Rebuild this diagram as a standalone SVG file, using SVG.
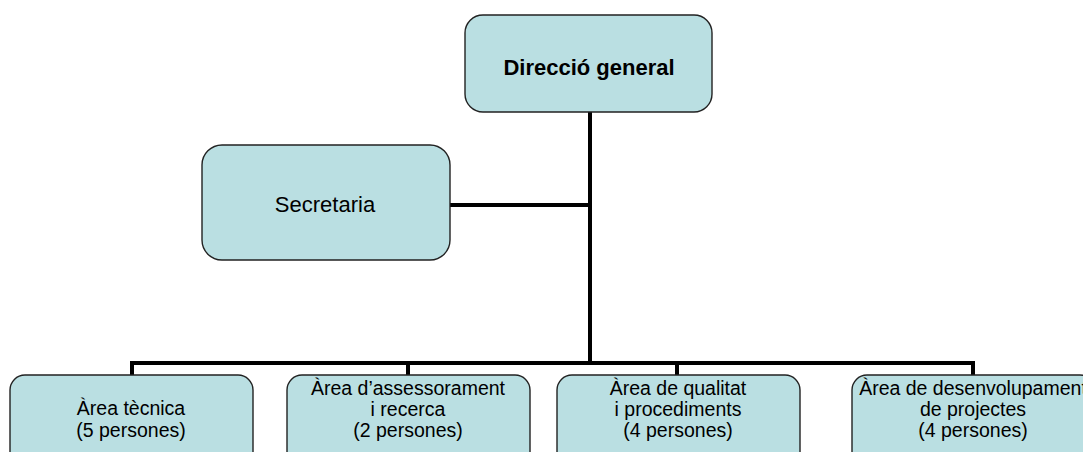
<svg xmlns="http://www.w3.org/2000/svg" width="1083" height="452" viewBox="0 0 1083 452">
<style>
.box{fill:#BADFE2;stroke:#222;stroke-width:1.4}
.t{font-family:"Liberation Sans",Arial,sans-serif;fill:#000;text-anchor:middle}
.big{font-size:22px}
.sm{font-size:19.5px}
.b{font-weight:bold}
.ln{stroke:#000;stroke-width:4;fill:none}
</style>
<rect width="1083" height="452" fill="#fff"/>
<g id="connectors">
<line class="ln" x1="590" y1="112" x2="590" y2="365"/>
<line class="ln" x1="450" y1="205" x2="590" y2="205"/>
<line class="ln" x1="130" y1="363" x2="975" y2="363"/>
<line class="ln" x1="132" y1="361" x2="132" y2="376"/>
<line class="ln" x1="408" y1="361" x2="408" y2="376"/>
<line class="ln" x1="677" y1="361" x2="677" y2="376"/>
<line class="ln" x1="973" y1="361" x2="973" y2="376"/>
</g>
<g id="direccio">
<rect class="box" x="465" y="15" width="247" height="97" rx="18"/>
<text class="t big b" x="589" y="75">Direcció general</text>
</g>
<g id="secretaria">
<rect class="box" x="202" y="145" width="248" height="115" rx="20"/>
<text class="t big" x="325" y="212">Secretaria</text>
</g>
<g id="tecnica">
<rect class="box" x="10" y="375" width="243" height="100" rx="15"/>
<text class="t sm" x="131" y="415">Àrea tècnica</text>
<text class="t sm" x="131" y="437">(5 persones)</text>
</g>
<g id="assessorament">
<rect class="box" x="287" y="375" width="243" height="100" rx="15"/>
<text class="t sm" x="408" y="395">Àrea d’assessorament</text>
<text class="t sm" x="408" y="416">i recerca</text>
<text class="t sm" x="408" y="437">(2 persones)</text>
</g>
<g id="qualitat">
<rect class="box" x="557" y="375" width="243" height="100" rx="15"/>
<text class="t sm" x="678" y="395">Àrea de qualitat</text>
<text class="t sm" x="678" y="416">i procediments</text>
<text class="t sm" x="678" y="437">(4 persones)</text>
</g>
<g id="desenvolupament">
<rect class="box" x="852" y="375" width="243" height="100" rx="15"/>
<text class="t sm" x="973" y="395">Àrea de desenvolupament</text>
<text class="t sm" x="973" y="416">de projectes</text>
<text class="t sm" x="973" y="437">(4 persones)</text>
</g>
</svg>
